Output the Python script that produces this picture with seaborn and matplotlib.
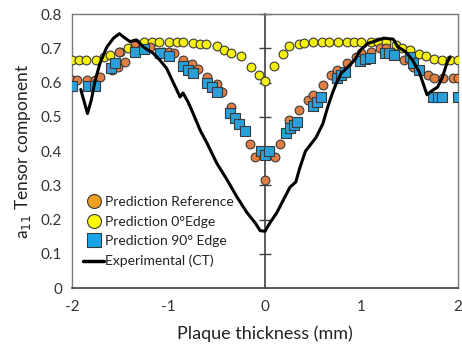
import numpy as np
import pandas as pd
import seaborn as sns
import matplotlib.pyplot as plt
from matplotlib.lines import Line2D

# Prediction Reference
x_ref = [-2.0, -1.95, -1.85, -1.76, -1.71, -1.59, -1.52, -1.51, -1.45, -1.35, -1.19, -1.06, -1.0, -0.94,
         -0.85, -0.76, -0.69, -0.60, -0.50, -0.45, -0.35, -0.16, -0.10, 0.0, 0.10, 0.16, 0.25, 0.35, 0.45,
         0.50, 0.60, 0.68, 0.75, 0.85, 0.94, 1.0, 1.10, 1.19, 1.25, 1.44, 1.54, 1.69, 1.75, 1.85, 1.95, 2.0]
y_ref = [0.607, 0.607, 0.607, 0.607, 0.616, 0.636, 0.646, 0.69, 0.66, 0.715, 0.703, 0.69, 0.69, 0.686,
         0.667, 0.655, 0.641, 0.616, 0.595, 0.572, 0.528, 0.42, 0.383, 0.315, 0.383, 0.42, 0.49, 0.52, 0.55,
         0.563, 0.593, 0.622, 0.636, 0.657, 0.675, 0.686, 0.69, 0.70, 0.70, 0.666, 0.646, 0.622, 0.613,
         0.613, 0.613, 0.613]

# Prediction 0° edge
x_0 = [-2.0, -1.93, -1.86, -1.75, -1.67, -1.61, -1.50, -1.42, -1.35, -1.25, -1.17, -1.10, -0.99, -0.91,
       -0.85, -0.75, -0.67, -0.61, -0.50, -0.42, -0.35, -0.25, -0.145, -0.06, 0.0, 0.095, 0.19, 0.25, 0.35,
       0.41, 0.50, 0.59, 0.66, 0.76, 0.85, 0.92, 1.0, 1.10, 1.17, 1.25, 1.36, 1.42, 1.50, 1.60, 1.67, 1.75,
       1.84, 1.92, 2.0]
y_0 = [0.666, 0.666, 0.666, 0.666, 0.674, 0.68, 0.69, 0.70, 0.71, 0.72, 0.72, 0.72, 0.718, 0.718,
       0.718, 0.715, 0.712, 0.712, 0.707, 0.695, 0.686, 0.677, 0.645, 0.622, 0.605, 0.648, 0.683, 0.707,
       0.712, 0.715, 0.72, 0.72, 0.72, 0.72, 0.72, 0.72, 0.72, 0.72, 0.72, 0.72, 0.71, 0.70, 0.695, 0.683,
       0.677, 0.668, 0.666, 0.666, 0.666]

# Prediction 90° edge
x_90 = [-2.0, -1.84, -1.76, -1.60, -1.55, -1.35, -1.25, -1.09, -0.99, -0.85, -0.80, -0.75, -0.60, -0.55,
        -0.50, -0.36, -0.31, -0.27, -0.21, -0.04, 0.0, 0.04, 0.22, 0.26, 0.30, 0.33, 0.50, 0.54, 0.58, 0.75,
        0.79, 0.83, 0.99, 1.04, 1.09, 1.24, 1.29, 1.34, 1.50, 1.54, 1.60, 1.74, 1.79, 1.84, 2.0]
y_90 = [0.59, 0.59, 0.59, 0.642, 0.657, 0.69, 0.697, 0.686, 0.677, 0.648, 0.636, 0.628, 0.599, 0.587,
        0.573, 0.51, 0.497, 0.48, 0.46, 0.40, 0.388, 0.40, 0.453, 0.467, 0.476, 0.485, 0.531, 0.543, 0.557,
        0.613, 0.622, 0.631, 0.663, 0.668, 0.672, 0.686, 0.686, 0.68, 0.674, 0.657, 0.636, 0.557, 0.557,
        0.557, 0.557]

# Experimental (CT)
x_ct = [-1.91, -1.87, -1.84, -1.80, -1.76, -1.71, -1.64, -1.57, -1.51, -1.45, -1.40, -1.33, -1.26, -1.16,
        -1.09, -1.02, -0.95, -0.88, -0.85, -0.80, -0.76, -0.67, -0.60, -0.50, -0.39, -0.29, -0.19, -0.10,
        -0.05, 0.0, 0.05, 0.12, 0.19, 0.26, 0.32, 0.36, 0.42, 0.53, 0.60, 0.65, 0.70, 0.74, 0.79, 0.86,
        0.93, 0.99, 1.07, 1.13, 1.23, 1.33, 1.38, 1.46, 1.53, 1.60, 1.68, 1.74, 1.79, 1.84, 1.89, 1.92]
y_ct = [0.58, 0.54, 0.51, 0.55, 0.607, 0.657, 0.704, 0.73, 0.743, 0.73, 0.72, 0.724, 0.704, 0.686,
        0.666, 0.642, 0.60, 0.558, 0.57, 0.545, 0.52, 0.46, 0.423, 0.365, 0.315, 0.266, 0.222, 0.19,
        0.168, 0.166, 0.19, 0.219, 0.257, 0.295, 0.31, 0.35, 0.40, 0.44, 0.48, 0.528, 0.57, 0.598, 0.627,
        0.646, 0.666, 0.695, 0.715, 0.72, 0.73, 0.727, 0.704, 0.69, 0.666, 0.631, 0.565, 0.578, 0.587,
        0.616, 0.66, 0.675]

labels = ['Prediction Reference', 'Prediction 0°Edge', 'Prediction 90° Edge', 'Experimental (CT)']

sns.set_style('white')
plt.rcParams['font.family'] = ['Lato', 'DejaVu Sans']

fig = plt.figure(figsize=(4.62, 3.54), dpi=100)
ax = fig.add_axes([0.156, 0.186, 0.835, 0.774])

edge = '#3a3a3a'
sns.scatterplot(x=x_0, y=y_0, ax=ax, marker='o', s=40, color='#F5F010',
                edgecolor=edge, linewidth=0.8, zorder=3)
sns.scatterplot(x=x_ref, y=y_ref, ax=ax, marker='o', s=40, color='#E07F45',
                edgecolor=edge, linewidth=0.8, zorder=4)
sns.scatterplot(x=x_90, y=y_90, ax=ax, marker='s', s=42, color='#2A9FD8',
                edgecolor=edge, linewidth=0.8, zorder=5)
ct = pd.DataFrame({'x': x_ct, 'y': y_ct})
sns.lineplot(data=ct, x='x', y='y', ax=ax, sort=False, estimator=None,
             color='black', linewidth=2.2, zorder=6)

ax.set_xlim(-2, 2)
ax.set_ylim(0, 0.8)
ax.set_xticks([-2, -1, 0, 1, 2])
ax.set_xticklabels(['-2', '-1', '0', '1', '2'])
ax.set_yticks(np.arange(0, 0.81, 0.1))
ax.set_yticklabels(['0'] + ['%.1f' % v for v in np.arange(0.1, 0.81, 0.1)])
ax.tick_params(axis='x', direction='inout', length=9, width=1, color='#404040',
               labelsize=11, pad=4, labelcolor='#333333')
ax.tick_params(axis='y', length=0, labelsize=11, pad=7, labelcolor='#333333')
for s in ax.spines.values():
    s.set_color('#7a7a7a')
    s.set_linewidth(1)
ax.spines['bottom'].set_color('#404040')
ax.spines['bottom'].set_linewidth(1.2)

# vertical axis crossing at x = 0
ax2 = ax.twinx()
ax2.set_ylim(0, 0.8)
ax2.set_yticks(np.arange(0.1, 0.81, 0.1))
ax2.spines['right'].set_position(('data', 0))
ax2.spines['right'].set_color('#404040')
ax2.spines['right'].set_linewidth(1.2)
for k in ['left', 'top', 'bottom']:
    ax2.spines[k].set_visible(False)
ax2.tick_params(axis='y', direction='inout', length=9, width=1, color='#404040',
                labelright=False)
ax2.set_zorder(ax.get_zorder() - 1)
ax.patch.set_visible(False)

ax.set_xlabel('Plaque thickness (mm)', fontsize=13, color='#222222', labelpad=8)
ax.set_ylabel('a$_{11}$ Tensor component', fontsize=12.5, color='#222222', labelpad=6)

handles = [
    Line2D([], [], marker='o', linestyle='none', markersize=10, markerfacecolor='#EFA020',
           markeredgecolor=edge, markeredgewidth=0.8),
    Line2D([], [], marker='o', linestyle='none', markersize=10, markerfacecolor='#FFFF00',
           markeredgecolor=edge, markeredgewidth=0.8),
    Line2D([], [], marker='s', linestyle='none', markersize=10, markerfacecolor='#18A4EA',
           markeredgecolor=edge, markeredgewidth=0.8),
    Line2D([], [], color='black', linewidth=2.5),
]
ax.legend(handles, labels, loc='lower left', bbox_to_anchor=(0.0, 0.035), frameon=False,
          fontsize=10, handlelength=1.5, handletextpad=0.05, labelspacing=0.55,
          borderaxespad=0.4, labelcolor='#222222')

fig.savefig('out.png', dpi=100)
